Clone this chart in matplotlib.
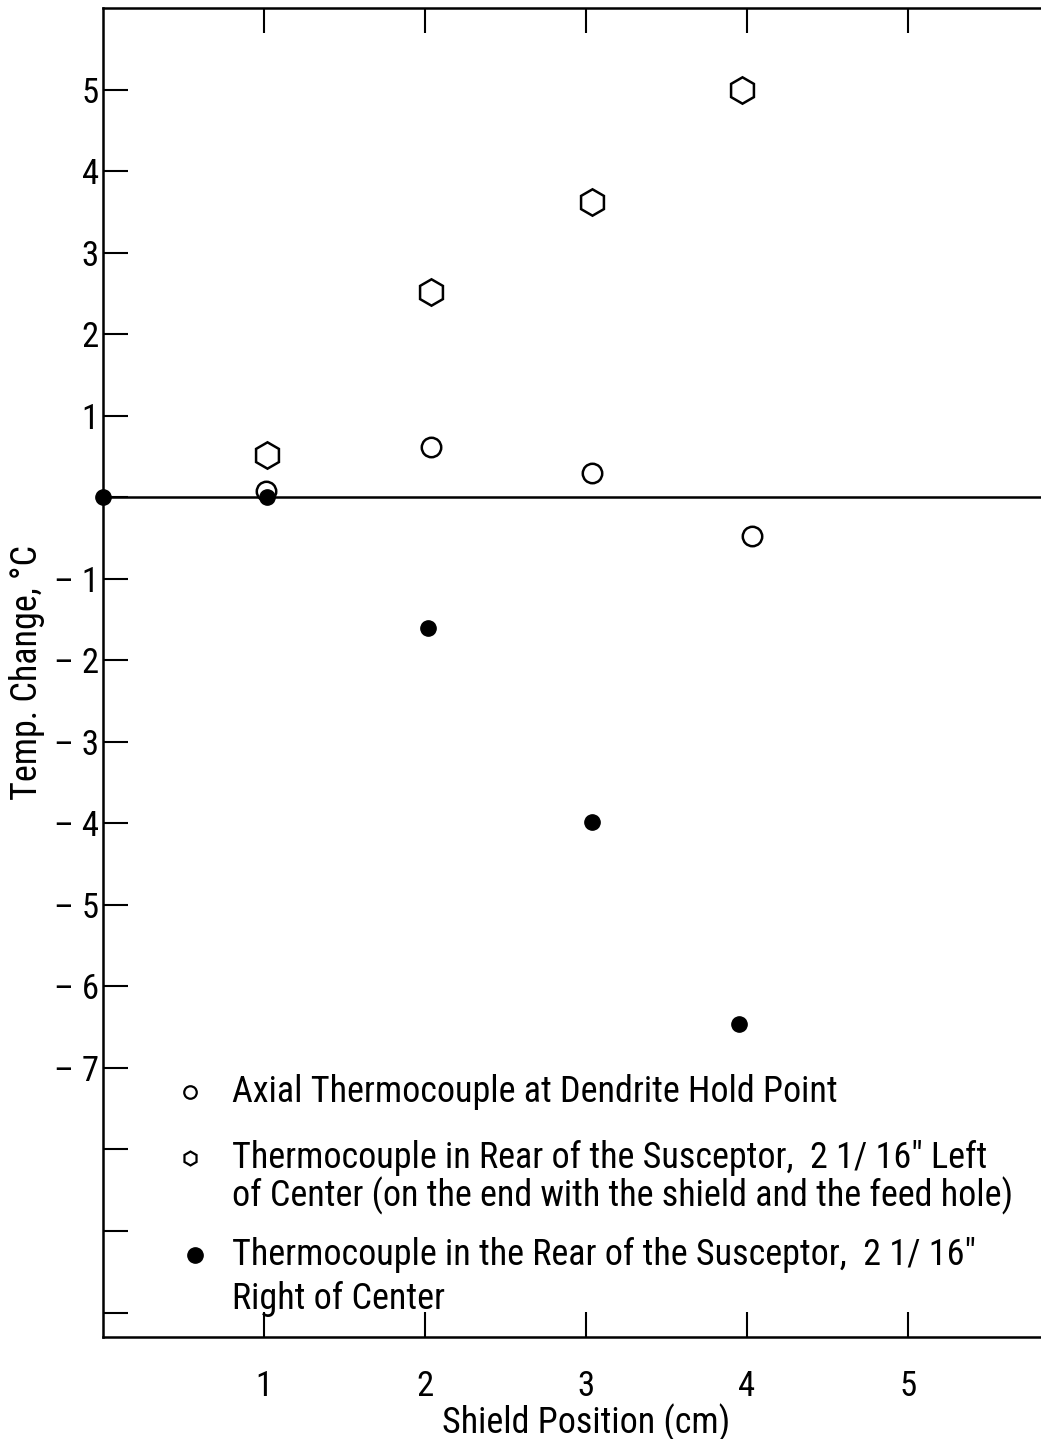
import matplotlib
matplotlib.use("Agg")
import matplotlib.pyplot as plt
from matplotlib import font_manager as fm

# ---------------------------------------------------------------------------
# Data
# ---------------------------------------------------------------------------
axial_x = [1.01, 2.04, 3.04, 4.03]
axial_y = [0.07, 0.61, 0.30, -0.47]

left_x = [1.02, 2.04, 3.04, 3.97]
left_y = [0.52, 2.52, 3.62, 5.0]

right_x = [0.0, 1.02, 2.02, 3.04, 3.95]
right_y = [0.0, 0.0, -1.61, -3.98, -6.46]

y_ticks = list(range(-10, 6))
y_labels = [f"\u2013 {abs(v)}" if v < 0 else str(v) for v in y_ticks]
y_labels = [lab if -7 <= v <= 5 and v != 0 else "" for v, lab in zip(y_ticks, y_labels)]
x_ticks = [1, 2, 3, 4, 5]

legend_lines = [
    ["Axial Thermocouple at Dendrite Hold Point"],
    ["Thermocouple in Rear of the Susceptor,  2 1/ 16\" Left",
     "of Center (on the end with the shield and the feed hole)"],
    ["Thermocouple in the Rear of the Susceptor,  2 1/ 16\"",
     "Right of Center"],
]

# ---------------------------------------------------------------------------
# Style
# ---------------------------------------------------------------------------
names = {f.name for f in fm.fontManager.ttflist}
wanted = ["Roboto Condensed", "PT Sans Narrow", "Archivo Narrow",
          "Open Sans Condensed", "Liberation Sans Narrow"]
chosen = next((n for n in wanted if n in names), "DejaVu Sans")
plt.rcParams["font.family"] = [chosen, "DejaVu Sans"]

FS = 26
W, H = 1041, 1439
fig = plt.figure(figsize=(W / 100, H / 100), dpi=100)
ax = fig.add_axes([103 / W, 102 / H, 966 / W, 1329 / H])
ax.set_xlim(0, 6)
ax.set_ylim(-10.3, 6.0)

for s in ax.spines.values():
    s.set_linewidth(1.8)

ax.axhline(0, color="black", lw=1.8, zorder=1)

ax.plot(axial_x, axial_y, "o", ms=14, mfc="white", mec="black", mew=1.8,
        ls="none", zorder=3)
ax.plot(left_x, left_y, "h", ms=19, mfc="white", mec="black", mew=1.8,
        ls="none", zorder=3)
ax.plot(right_x, right_y, "o", ms=11, color="black", ls="none", zorder=4,
        clip_on=False)

ax.set_xticks(x_ticks)
ax.set_xticklabels([str(v) for v in x_ticks], fontsize=FS - 1)
ax.set_yticks(y_ticks)
ax.set_yticklabels(y_labels, fontsize=FS - 1)
ax.tick_params(axis="both", direction="in", length=18, width=1.5,
               top=True, right=True)
ax.tick_params(axis="x", pad=24)
ax.tick_params(axis="y", pad=3)

ax.set_xlabel("Shield Position (cm)", fontsize=FS, labelpad=0)
ax.set_ylabel("Temp. Change, \u00b0C", fontsize=FS, labelpad=6)

# hand-drawn legend inside the plot
mk_x = 0.54
txt_x = 0.80
rows_y = [-7.30, -8.10, -9.30]
line_gaps = [0.0, 0.47, 0.54]
ax.plot([mk_x], [rows_y[0]], "o", ms=9, mfc="white", mec="black", mew=1.6)
ax.plot([mk_x], [rows_y[1]], "h", ms=10, mfc="white", mec="black", mew=1.6)
ax.plot([mk_x + 0.03], [rows_y[2]], "o", ms=11, color="black")
for y0, gap, lines in zip(rows_y, line_gaps, legend_lines):
    for i, line in enumerate(lines):
        ax.text(txt_x, y0 - i * gap, line, fontsize=FS, va="center", ha="left")

fig.savefig("out.png", dpi=100)
